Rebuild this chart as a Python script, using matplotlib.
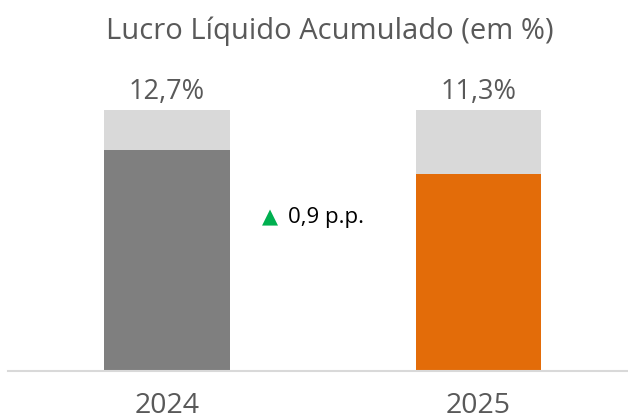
import matplotlib.pyplot as plt

years = ["2024", "2025"]
values = [12.7, 11.3]
labels = ["12,7%", "11,3%"]
background = [15.0, 15.0]
colors = ["#7F7F7F", "#E36C09"]
delta_text = "0,9 p.p."

W, H = 628, 417
fig = plt.figure(figsize=(W / 100, H / 100), dpi=100)
# axes placed in pixel terms: x 8..628, baseline at y=371, top at y=110
ax = fig.add_axes([8 / W, (H - 371) / H, 1 - 8 / W, (371 - 110) / H])

x = [0, 1]
ax.bar(x, background, width=0.404, color="#D9D9D9", zorder=1)
ax.bar(x, values, width=0.404, color=colors, zorder=2)

ax.set_xlim(-0.5105, 1.4799)
ax.set_ylim(0, 15)

txtfont = ["Open Sans", "DejaVu Sans"]
for xi, bg, lab in zip(x, background, labels):
    ax.text(xi, bg + 0.25, lab, ha="center", va="bottom", fontsize=19.5,
            color="#595959", family=txtfont)

# variation annotation
ax.text(0.329, 8.85, "▲", ha="center", va="center", fontsize=15,
        color="#00B050", family=["DejaVu Sans"])
ax.text(0.3882, 8.85, delta_text, ha="left", va="center", fontsize=16,
        color="#000000", family=["Open Sans", "DejaVu Sans"])

ax.set_xticks(x)
ax.set_xticklabels(years, fontsize=20.5, color="#595959", family=txtfont)
ax.tick_params(axis="x", length=0, pad=15)
ax.set_yticks([])
for s in ["top", "left", "right"]:
    ax.spines[s].set_visible(False)
ax.spines["bottom"].set_color("#D9D9D9")
ax.spines["bottom"].set_linewidth(1.5)

fig.text(330 / W, 1 - 31 / H, "Lucro Líquido Acumulado (em %)", ha="center",
         va="center", fontsize=21, color="#595959", family=txtfont)

fig.savefig("out.png", dpi=100)
